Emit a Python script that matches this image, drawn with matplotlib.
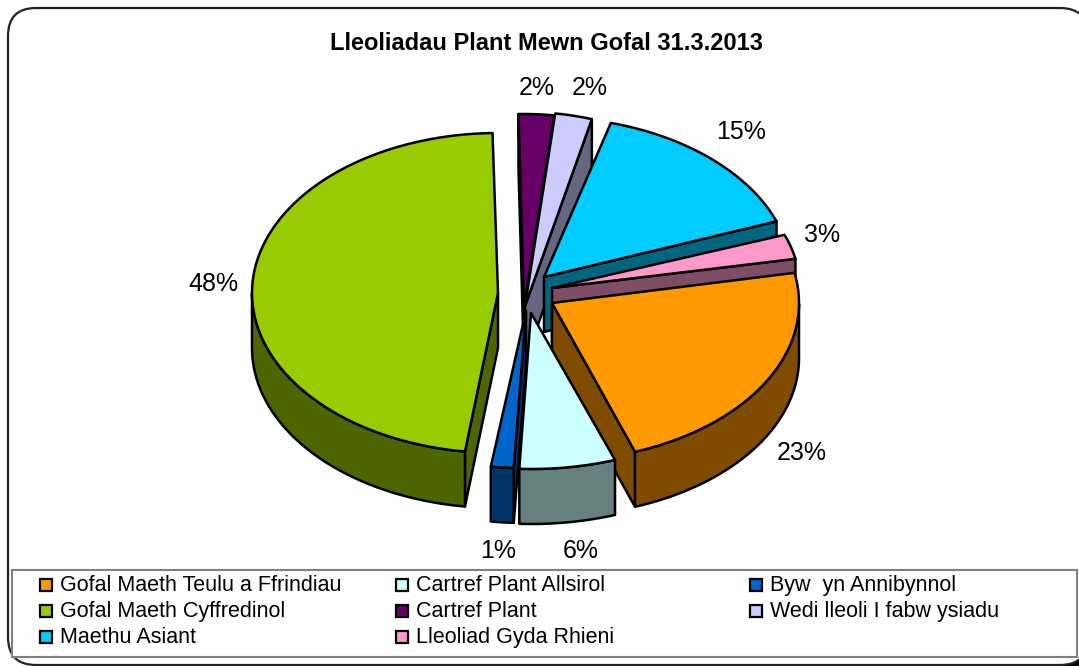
import numpy as np
import matplotlib
matplotlib.use("Agg")
import matplotlib.pyplot as plt
from matplotlib.patches import FancyBboxPatch, Polygon, Rectangle

plt.rcParams["font.family"] = ["Liberation Sans", "DejaVu Sans"]

# Data
title = "Lleoliadau Plant Mewn Gofal 31.3.2013"
categories = ["Gofal Maeth Teulu a Ffrindiau", "Cartref Plant Allsirol", "Byw  yn Annibynnol",
              "Gofal Maeth Cyffredinol", "Cartref Plant", "Wedi lleoli I fabw ysiadu",
              "Maethu Asiant", "Lleoliad Gyda Rhieni"]
values = [22.6, 6.2, 1.4, 47.5, 2.3, 2.4, 15.0, 2.6]

# Style: slice colours, in pie order
colors = ["#FF9900", "#CCFFFF", "#0066CC", "#99CC00", "#660066", "#CCCCFF", "#00CCFF", "#FF99CC"]
legend_order = [0, 1, 2, 3, 4, 5, 6, 7]

# Layout in pixels: each slice has its own tip and radii because the pie is exploded unevenly
tip_x = [552, 531, 526, 498, 524, 525, 544, 552]
tip_y = [303, 313, 311, 293, 307, 306, 277, 288]
rad_x = [247, 250, 262, 246, 248, 248, 248, 248]
rad_y = [158, 156, 157, 160, 193, 194, 160, 153]
label_x = [802, 581, 498, 213, 537, 590, 741, 822]
label_y = [453, 551, 551, 284, 88, 88, 132, 235]
depth = 55
start_angle = 79.0


def darker(hex_color):
    r, g, b = matplotlib.colors.to_rgb(hex_color)
    return (r * 0.5, g * 0.5, b * 0.5)


def draw_slice(ax, i, a0, a1):
    # angles are clockwise from the top of the pie
    th = np.radians(np.linspace(a0, a1, 80))
    xs = tip_x[i] + rad_x[i] * np.sin(th)
    ys = tip_y[i] - rad_y[i] * np.cos(th)
    side = darker(colors[i])
    kw = dict(edgecolor="black", linewidth=1.8, joinstyle="round", closed=True)

    # cut faces that turn towards the viewer
    if np.sin(th[0]) < 0:
        ax.add_patch(Polygon([(tip_x[i], tip_y[i]), (xs[0], ys[0]), (xs[0], ys[0] + depth),
                              (tip_x[i], tip_y[i] + depth)], facecolor=side, **kw))
    if np.sin(th[-1]) > 0:
        ax.add_patch(Polygon([(tip_x[i], tip_y[i]), (xs[-1], ys[-1]), (xs[-1], ys[-1] + depth),
                              (tip_x[i], tip_y[i] + depth)], facecolor=side, **kw))

    # outer rim, only the front half shows
    front = np.cos(th) < 0
    if front.any():
        fx, fy = xs[front], ys[front]
        rim = np.column_stack([np.r_[fx, fx[::-1]], np.r_[fy, fy[::-1] + depth]])
        ax.add_patch(Polygon(rim, facecolor=side, **kw))

    top = np.column_stack([np.r_[tip_x[i], xs], np.r_[tip_y[i], ys]])
    ax.add_patch(Polygon(top, facecolor=colors[i], **kw))


fig = plt.figure(figsize=(10.79, 6.66), dpi=100)
ax = fig.add_axes([0, 0, 1, 1])
ax.set_xlim(0, 1079)
ax.set_ylim(666, 0)
ax.axis("off")

# chart frame, the corner outside it is black at the bottom right
ax.add_patch(Rectangle((1056, 640), 23, 26, facecolor="black", edgecolor="none"))
ax.add_patch(FancyBboxPatch((8, 8), 1080, 657, boxstyle="round,pad=0,rounding_size=28",
                            facecolor="white", edgecolor="#222222", linewidth=1.6))

# slices, back to front
edges = start_angle + np.cumsum([0] + values) * 3.6
mids = (edges[:-1] + edges[1:]) / 2
order = np.argsort(-np.cos(np.radians(mids)))
for i in order:
    draw_slice(ax, i, edges[i], edges[i + 1])

for i, v in enumerate(values):
    ax.text(label_x[i], label_y[i], f"{round(v)}%", fontsize=18, ha="center", va="center", color="black")

ax.text(546, 43, title, fontsize=17, fontweight="bold", ha="center", va="center")

# legend box
ax.add_patch(Rectangle((12, 570), 1065, 87, facecolor="white", edgecolor="#808080", linewidth=1.5))
col_x = [40, 396, 750]
row_y = [585, 611, 637]
for n, i in enumerate(legend_order):
    x = col_x[n % 3]
    y = row_y[n // 3]
    ax.add_patch(Rectangle((x, y - 6), 12, 12, facecolor=colors[i], edgecolor="black", linewidth=1.6))
    ax.text(x + 20, y + 6, categories[i], fontsize=15.5, ha="left", va="baseline", color="black")

fig.savefig("out.png", dpi=100)
